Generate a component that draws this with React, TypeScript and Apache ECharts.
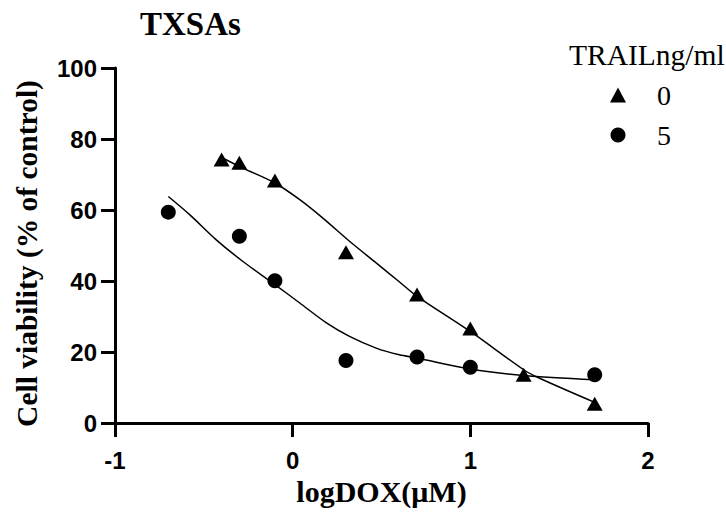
import React, { useEffect, useRef } from "react";
import * as echarts from "echarts";

// Measured data points (logDOX in µM, cell viability %)
const dose0 = [-0.4, -0.3, -0.1, 0.3, 0.7, 1.0, 1.3, 1.7];
const viab0 = [74.2, 73.3, 68.3, 48.1, 36.2, 26.6, 13.6, 5.4];
const dose5 = [-0.7, -0.3, -0.1, 0.3, 0.7, 1.0, 1.7];
const viab5 = [59.4, 52.6, 40.1, 17.6, 18.6, 15.7, 13.6];

// Fitted curves
const fit0X = [-0.4, -0.28, -0.1, 0.04, 0.17, 0.32, 0.47, 0.6, 0.7, 1.0, 1.3, 1.39, 1.7];
const fit0Y = [74.8, 71.8, 67.6, 62.9, 57.7, 51.2, 45.1, 39.8, 35.7, 25.8, 15.0, 12.6, 5.8];
const fit5X = [-0.7, -0.58, -0.43, -0.28, -0.1, 0.04, 0.19, 0.32, 0.47, 0.6, 0.7, 1.0, 1.3, 1.7];
const fit5Y = [63.8, 58.7, 51.6, 45.5, 39.0, 33.8, 28.2, 24.4, 21.1, 19.2, 18.3, 15.2, 13.4, 12.2];

const xTicks = { min: -1, max: 2, interval: 1 };
const yTicks = { min: 0, max: 100, interval: 20 };

const groupNames = ["0", "5"];
const titleText = "TXSAs";
const legendTitle = "TRAILng/ml";
const xName = "logDOX(μM)";
const yName = "Cell viability (% of control)";

const zip = (xs: number[], ys: number[]) => xs.map((x, i) => [x, ys[i]]);

export default function App() {
  const ref = useRef<HTMLDivElement>(null);
  useEffect(() => {
    document.body.style.margin = "0";
    if (!ref.current) return;
    const chart = echarts.init(ref.current, null, { renderer: "svg" });
    const serif = "'Liberation Serif', 'Times New Roman', Times, serif";
    const sans = "'Liberation Sans', Arial, sans-serif";
    const axisCommon = {
      axisLine: { show: true, onZero: false, lineStyle: { color: "#000", width: 3 } },
      axisTick: { show: true, inside: false, length: 14, lineStyle: { color: "#000", width: 3 } },
      splitLine: { show: false },
      nameLocation: "middle" as const,
    };
    chart.setOption({
      animation: false,
      backgroundColor: "#fff",
      textStyle: { fontFamily: serif },
      title: [
        {
          text: titleText,
          left: 140,
          top: 7,
          padding: 0,
          textStyle: { fontFamily: serif, fontWeight: "bold", fontSize: 33, color: "#000" },
        },
        {
          text: legendTitle,
          left: 569,
          top: 40,
          padding: 0,
          textStyle: { fontFamily: serif, fontWeight: "normal", fontSize: 29.5, color: "#000" },
        },
      ],
      legend: {
        data: [
          { name: groupNames[0], icon: "triangle" },
          { name: groupNames[1], icon: "circle" },
        ],
        orient: "vertical",
        left: 610,
        top: 81,
        padding: 0,
        itemWidth: 16,
        itemHeight: 15,
        itemGap: 12,
        selectedMode: false,
        textStyle: {
          fontFamily: serif,
          fontSize: 28,
          lineHeight: 28,
          color: "#000",
          padding: [0, 0, 0, 26],
        },
      },
      grid: {
        left: 115,
        right: 78,
        top: 68,
        bottom: 97,
        containLabel: false,
        outerBoundsMode: "none",
      },
      xAxis: {
        type: "value",
        ...xTicks,
        ...axisCommon,
        name: xName,
        nameGap: 44,
        nameTextStyle: { fontFamily: serif, fontWeight: "bold", fontSize: 30, color: "#000" },
        axisLabel: { fontFamily: sans, fontWeight: "bold", fontSize: 24, color: "#000", margin: 25 },
      },
      yAxis: {
        type: "value",
        ...yTicks,
        ...axisCommon,
        name: yName,
        nameGap: 73,
        nameTextStyle: {
          fontFamily: serif,
          fontWeight: "bold",
          fontSize: 29.5,
          color: "#000",
          padding: [0, 16, 0, 0],
        },
        axisLabel: { fontFamily: sans, fontWeight: "bold", fontSize: 24, color: "#000", margin: 18 },
      },
      series: [
        {
          name: "fit-0",
          type: "line",
          data: zip(fit0X, fit0Y),
          smooth: 0.3,
          showSymbol: false,
          symbol: "none",
          lineStyle: { color: "#000", width: 1.5 },
          silent: true,
          z: 1,
        },
        {
          name: "fit-5",
          type: "line",
          data: zip(fit5X, fit5Y),
          smooth: 0.3,
          showSymbol: false,
          symbol: "none",
          lineStyle: { color: "#000", width: 1.5 },
          silent: true,
          z: 1,
        },
        {
          name: groupNames[0],
          type: "scatter",
          data: zip(dose0, viab0),
          symbol: "triangle",
          symbolSize: [16, 14],
          itemStyle: { color: "#000", opacity: 1 },
          z: 3,
        },
        {
          name: groupNames[1],
          type: "scatter",
          data: zip(dose5, viab5),
          symbol: "circle",
          symbolSize: 15,
          itemStyle: { color: "#000", opacity: 1 },
          z: 3,
        },
      ],
    });
    return () => chart.dispose();
  }, []);
  return <div ref={ref} style={{ width: 726, height: 520 }} />;
}
